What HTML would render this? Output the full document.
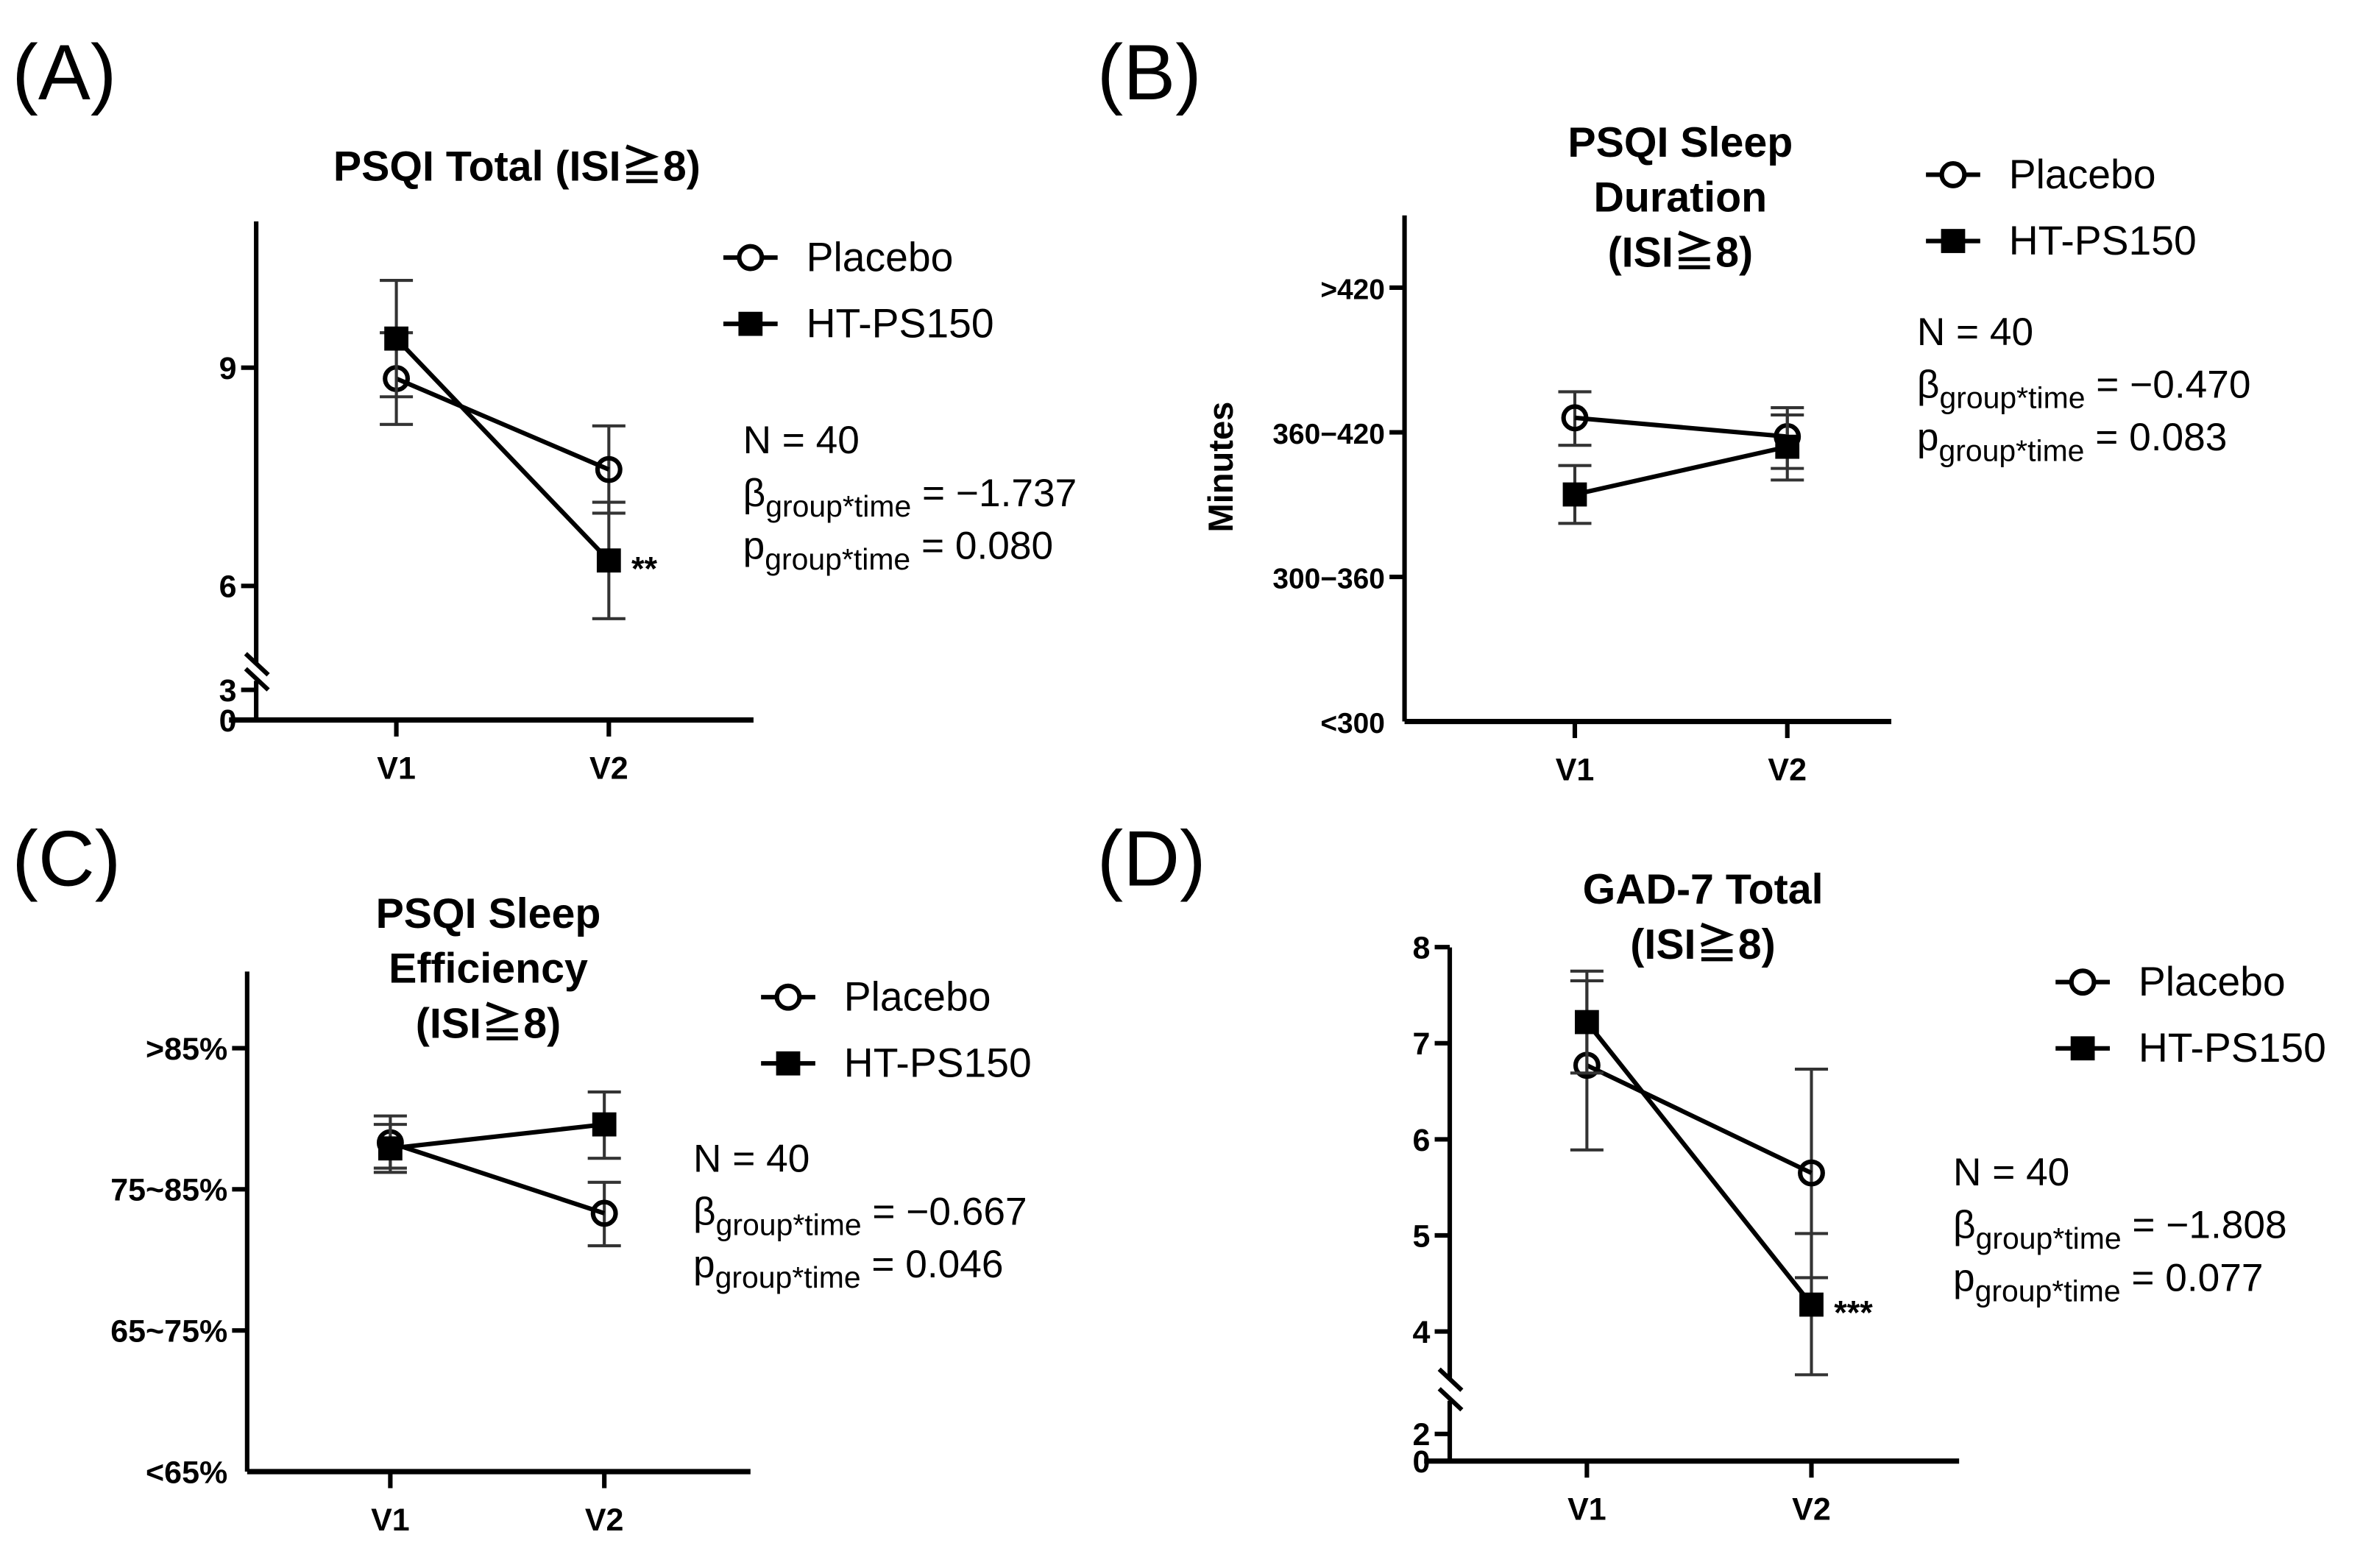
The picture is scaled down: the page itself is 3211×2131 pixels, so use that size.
<!DOCTYPE html>
<html><head><meta charset="utf-8"><style>
html,body{margin:0;padding:0;background:#fff;}
svg{display:block;}
text{font-family:"Liberation Sans","Noto Sans CJK JP",sans-serif;fill:#000;}
</style></head><body>
<svg id="fig" xmlns="http://www.w3.org/2000/svg" width="3211" height="2131" viewBox="0 0 1568 1041" preserveAspectRatio="none"></svg>
<script>
// ---- data ----
const categories = ["V1", "V2"];
const seriesNames = ["Placebo", "HT-PS150"];
// Panel A: PSQI Total
const aPlaceboMean = [8.85, 7.6];
const aPlaceboLo = [8.22, 7.0];
const aPlaceboHi = [9.48, 8.2];
const aHtMean = [9.4, 6.35];
const aHtLo = [8.6, 5.55];
const aHtHi = [10.2, 7.15];
const aTicks = [0, 3, 6, 9];
const aTickLabels = ["0", "3", "6", "9"];
// Panel B: Sleep duration (ordinal 1..4)
const bPlaceboMean = [3.10, 2.97];
const bPlaceboLo = [2.91, 2.75];
const bPlaceboHi = [3.28, 3.17];
const bHtMean = [2.57, 2.90];
const bHtLo = [2.37, 2.67];
const bHtHi = [2.77, 3.12];
const bTicks = [1, 2, 3, 4];
const bTickLabels = ["<300", "300\u2212360", "360\u2212420", ">420"];
// Panel C: Sleep efficiency (ordinal 1..4)
const cPlaceboMean = [3.33, 2.83];
const cPlaceboLo = [3.15, 2.60];
const cPlaceboHi = [3.52, 3.05];
const cHtMean = [3.29, 3.46];
const cHtLo = [3.12, 3.22];
const cHtHi = [3.46, 3.69];
const cTicks = [1, 2, 3, 4];
const cTickLabels = ["<65%", "65~75%", "75~85%", ">85%"];
// Panel D: GAD-7 Total
const dPlaceboMean = [6.77, 5.65];
const dPlaceboLo = [5.89, 4.56];
const dPlaceboHi = [7.65, 6.73];
const dHtMean = [7.22, 4.28];
const dHtLo = [6.69, 3.55];
const dHtHi = [7.75, 5.02];
const dTicks = [0, 2, 4, 5, 6, 7, 8];
const dTickLabels = ["0", "2", "4", "5", "6", "7", "8"];
const stats = [
  {beta: "\u22121.737", p: "0.080"},
  {beta: "\u22120.470", p: "0.083"},
  {beta: "\u22120.667", p: "0.046"},
  {beta: "\u22121.808", p: "0.077"}
];
const nValue = "40";

// ---- drawing ----
const NS = "http://www.w3.org/2000/svg";
const svg = document.getElementById("fig");
function mk(tag, attrs, parent, txt) {
  const e = document.createElementNS(NS, tag);
  for (const k in attrs) e.setAttribute(k, attrs[k]);
  if (txt !== undefined) e.textContent = txt;
  (parent || svg).appendChild(e);
  return e;
}
function line(x1, y1, x2, y2, w, c, p) { return mk("line", {x1, y1, x2, y2, "stroke-width": w, stroke: c || "#000"}, p); }

function panel(cfg) {
  const g = mk("g", {});
  
  
  const L = mk("text", {x: cfg.letter[0], y: cfg.letter[1], "font-size": 52}, g, cfg.letterText);
  
  
  cfg.title.forEach((t, i) => {
    const e = mk("text", {x: cfg.titleX, y: cfg.titleY + i * 36.5, "font-size": 28, "font-weight": "bold", "text-anchor": "middle"}, g, t);
    
    
  });
  const ax = cfg.axX, yB = cfg.axBottom;
  const ys = cfg.yScale;
  if (cfg.brk) {
    line(ax, cfg.axTop, ax, cfg.brk[0], 3, "#000", g);
    line(ax, cfg.brk[1], ax, yB, 3, "#000", g);
    line(ax - 7, cfg.brk[0] - 6, ax + 8, cfg.brk[0] + 8, 3, "#000", g);
    line(ax - 7, cfg.brk[1] - 8, ax + 8, cfg.brk[1] + 6, 3, "#000", g);
  } else {
    line(ax, cfg.axTop, ax, yB, 3, "#000", g);
  }
  const yAxis = mk("g", {}, g);
  
  
  cfg.ticks.forEach((v, i) => {
    const y = ys(v);
    if (Math.abs(y - yB) > 2) line(ax - 10, y, ax, y, 3, "#000", yAxis);
    const t = mk("text", {x: ax - 13, y: y + 7.5, "font-size": cfg.tickFont || 21, "font-weight": "bold", "text-anchor": "end"}, yAxis, cfg.tickLabels[i]);
    
    
  });
  if (cfg.yTitle) {
    const t = mk("text", {x: 0, y: 0, "font-size": 23, "font-weight": "bold", "text-anchor": "middle", transform: `translate(${cfg.yTitle[0]},${cfg.yTitle[1]}) rotate(-90)`}, g, "Minutes");
    
    
  }
  line(cfg.xStart, yB, cfg.xEnd, yB, 3.5, "#000", g);
  const xAxis = mk("g", {}, g);
  
  
  const xs = i => cfg.xPos[0] + i * (cfg.xPos[1] - cfg.xPos[0]);
  categories.forEach((c, i) => {
    line(xs(i), yB, xs(i), yB + 11, 3, "#000", xAxis);
    const t = mk("text", {x: xs(i), y: yB + 39, "font-size": 21, "font-weight": "bold", "text-anchor": "middle"}, xAxis, c);
    
    
  });
  cfg.series.forEach((s, si) => {
    const sg = mk("g", {}, g);
    
    
    s.mean.forEach((m, i) => {
      const x = xs(i);
      const eb = mk("g", {}, sg);
      
      
      line(x, ys(s.lo[i]), x, ys(s.hi[i]), 2, "#333", eb);
      line(x - 11, ys(s.lo[i]), x + 11, ys(s.lo[i]), 2, "#333", eb);
      line(x - 11, ys(s.hi[i]), x + 11, ys(s.hi[i]), 2, "#333", eb);
    });
    const pts = s.mean.map((m, i) => xs(i) + "," + ys(m)).join(" ");
    const pl = mk("polyline", {points: pts, fill: "none", stroke: "#000", "stroke-width": 3}, sg);
    
    
    s.mean.forEach((m, i) => {
      let e;
      if (si === 0) e = mk("circle", {cx: xs(i), cy: ys(m), r: 7.5, fill: "none", stroke: "#000", "stroke-width": 3}, sg);
      else e = mk("rect", {x: xs(i) - 8, y: ys(m) - 8, width: 16, height: 16, fill: "#000"}, sg);
      
      
    });
  });
  if (cfg.sig) {
    const t = mk("text", {x: xs(1) + 15, y: ys(cfg.series[1].mean[1]) + 13, "font-size": 22, "font-weight": "bold"}, g, cfg.sig);
    
    
  }
  const lg = mk("g", {}, g);
  
  
  seriesNames.forEach((n, i) => {
    const y = cfg.legY + i * 44;
    const en = mk("g", {}, lg);
    
    
    line(cfg.legX, y, cfg.legX + 36, y, 3, "#000", en);
    if (i === 0) mk("circle", {cx: cfg.legX + 18, cy: y, r: 7.5, fill: "#fff", stroke: "#000", "stroke-width": 3}, en);
    else mk("rect", {x: cfg.legX + 10, y: y - 8, width: 16, height: 16, fill: "#000"}, en);
    mk("text", {x: cfg.legX + 55, y: y + 9, "font-size": 27}, en, n);
  });
  const st = mk("g", {}, g);
  
  
  const s = stats[cfg.idx];
  mk("text", {x: cfg.statX, y: cfg.statY, "font-size": 26}, st, "N = " + nValue);
  const b = mk("text", {x: cfg.statX, y: cfg.statY + 35, "font-size": 26}, st);
  b.innerHTML = '\u03b2<tspan font-size="20" dy="7">group*time</tspan><tspan dy="-7"> = ' + s.beta + '</tspan>';
  const p = mk("text", {x: cfg.statX, y: cfg.statY + 70, "font-size": 26}, st);
  p.innerHTML = 'p<tspan font-size="20" dy="7">group*time</tspan><tspan dy="-7"> = ' + s.p + '</tspan>';
}

function scaleA(v) { return v >= 5 ? 389 - (v - 6) * 48.3 : 478 - v * (20 / 3); }
function scaleB(v) { return 479 - (v - 1) * 96; }
function scaleC(v) { return 977 - (v - 1) * 93.7; }
function scaleD(v) { return v >= 3.4 ? 884 - (v - 4) * 63.8 : 970 - v * 9; }

panel({idx: 0, name: "panel-a", letterText: "(A)", letter: [8, 66], title: ["PSQI Total (ISI\u22678)"], titleX: 343, titleY: 120,
  axX: 170, axTop: 147, axBottom: 478, brk: [440, 452], yScale: scaleA, ticks: aTicks, tickLabels: aTickLabels,
  xStart: 152, xEnd: 500, xPos: [263, 404], sig: "**",
  series: [{mean: aPlaceboMean, lo: aPlaceboLo, hi: aPlaceboHi}, {mean: aHtMean, lo: aHtLo, hi: aHtHi}],
  legX: 480, legY: 171, statX: 493, statY: 301});
panel({idx: 1, name: "panel-b", letterText: "(B)", letter: [728, 66], title: ["PSQI Sleep", "Duration", "(ISI\u22678)"], titleX: 1115, titleY: 104,
  axX: 932, axTop: 143, axBottom: 479, yScale: scaleB, ticks: bTicks, tickLabels: bTickLabels, yTitle: [818, 310], tickFont: 19,
  xStart: 932, xEnd: 1255, xPos: [1045, 1186],
  series: [{mean: bPlaceboMean, lo: bPlaceboLo, hi: bPlaceboHi}, {mean: bHtMean, lo: bHtLo, hi: bHtHi}],
  legX: 1278, legY: 116, statX: 1272, statY: 229});
panel({idx: 2, name: "panel-c", letterText: "(C)", letter: [8, 588], title: ["PSQI Sleep", "Efficiency", "(ISI\u22678)"], titleX: 324, titleY: 616,
  axX: 164, axTop: 645, axBottom: 977, yScale: scaleC, ticks: cTicks, tickLabels: cTickLabels,
  xStart: 164, xEnd: 498, xPos: [259, 401],
  series: [{mean: cPlaceboMean, lo: cPlaceboLo, hi: cPlaceboHi}, {mean: cHtMean, lo: cHtLo, hi: cHtHi}],
  legX: 505, legY: 662, statX: 460, statY: 778});
panel({idx: 3, name: "panel-d", letterText: "(D)", letter: [728, 588], title: ["GAD-7 Total", "(ISI\u22678)"], titleX: 1130, titleY: 600,
  axX: 962, axTop: 629, axBottom: 970, brk: [915, 930], yScale: scaleD, ticks: dTicks, tickLabels: dTickLabels,
  xStart: 945, xEnd: 1300, xPos: [1053, 1202], sig: "***",
  series: [{mean: dPlaceboMean, lo: dPlaceboLo, hi: dPlaceboHi}, {mean: dHtMean, lo: dHtLo, hi: dHtHi}],
  legX: 1364, legY: 652, statX: 1296, statY: 787});
</script>
</body></html>
